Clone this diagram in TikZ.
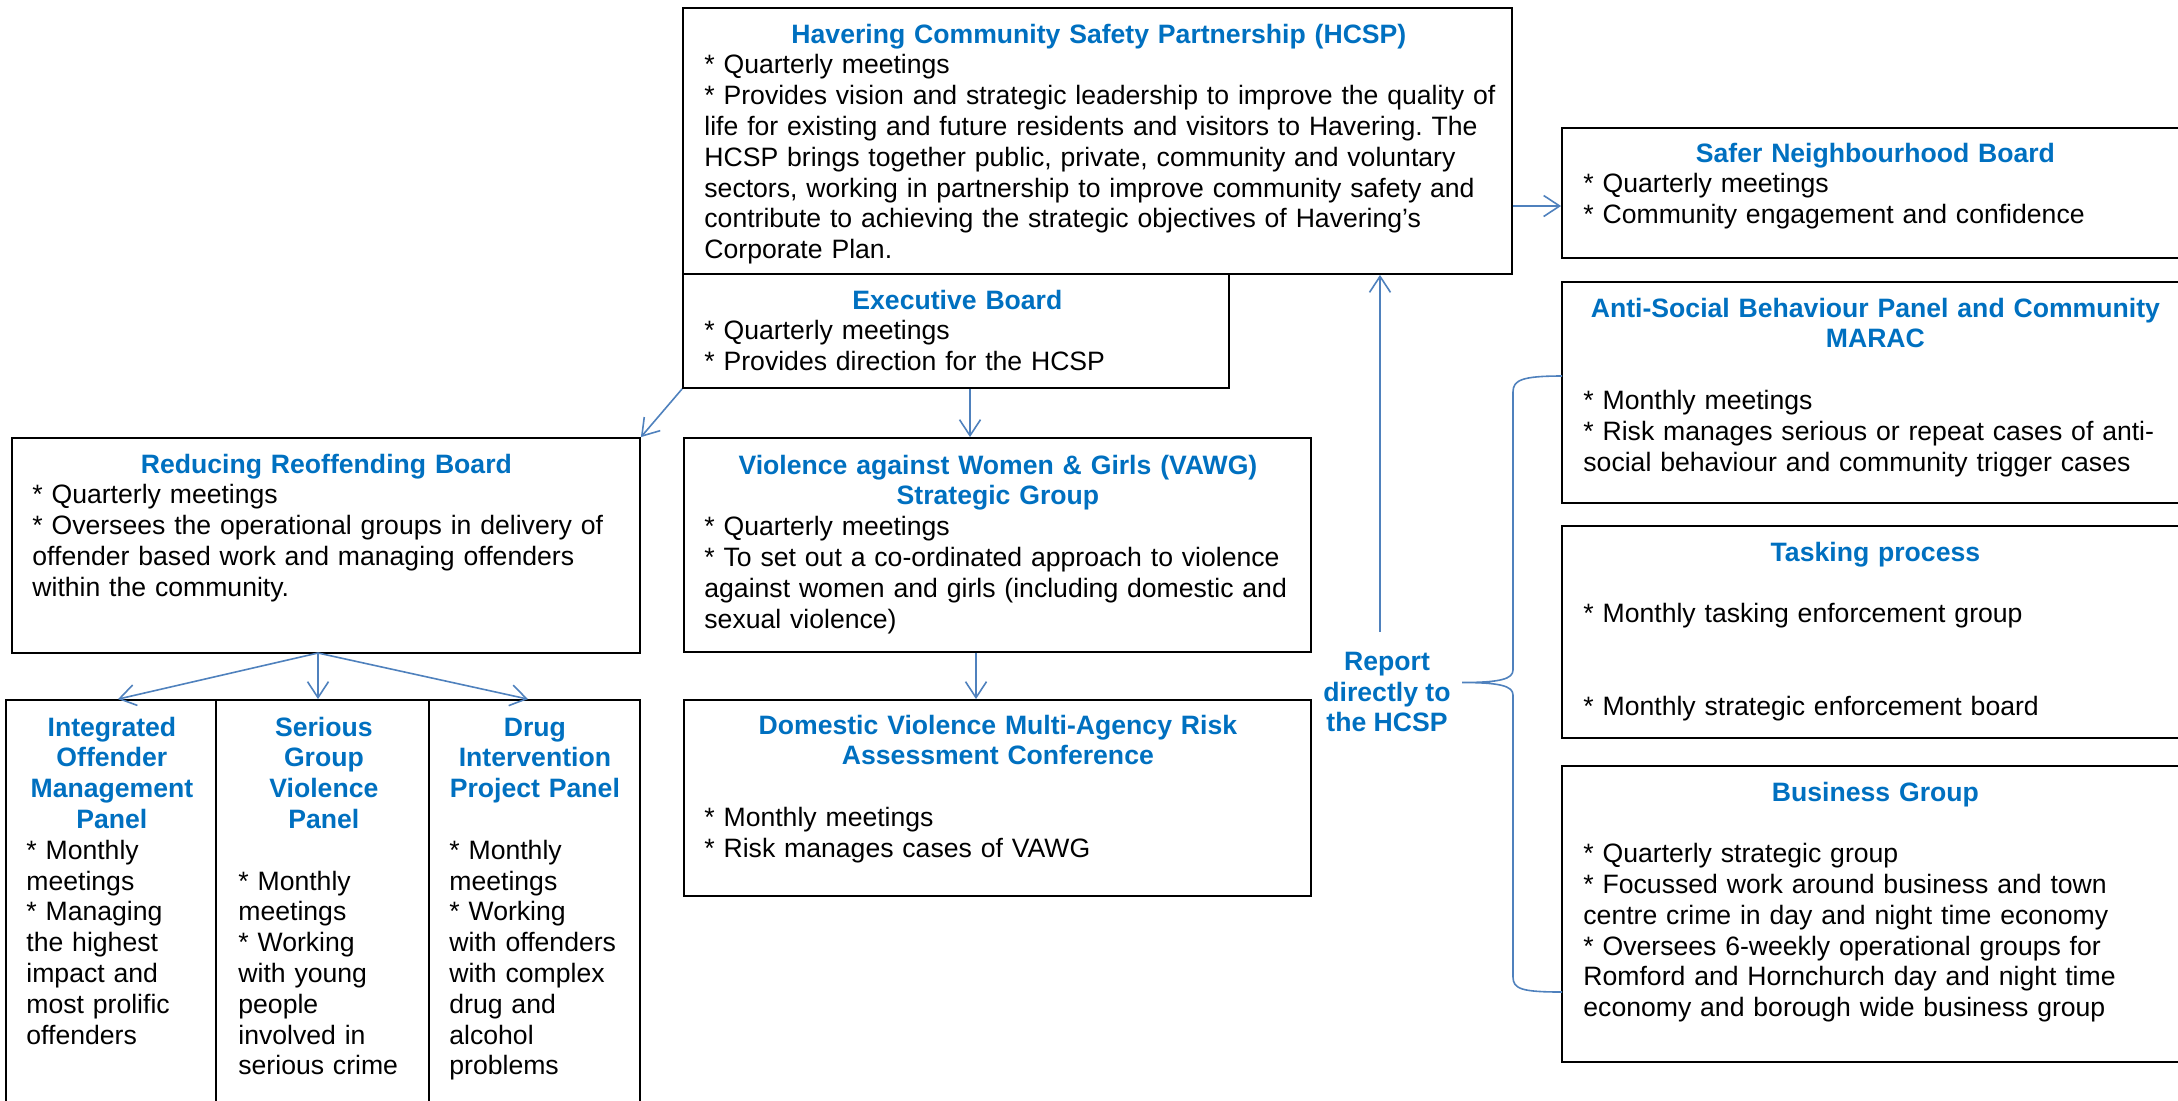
\documentclass[tikz,border=0pt]{standalone}
\usepackage{fontspec}
\setmainfont{Liberation Sans}
\usetikzlibrary{fit, arrows.meta}
\definecolor{titleblue}{HTML}{0070C0}
\definecolor{linkblue}{HTML}{4F81BD}
\frenchspacing
\newcommand\orgfont{\fontsize{13.3pt}{15.4pt}\selectfont}
\newcommand\boxtitle[1]{\makebox[\linewidth]{\bfseries\color{titleblue}#1}}
\newcommand\fullline[1]{\makebox[\linewidth][s]{#1}}

\tikzset{
  frame/.style={draw, line width=0.9pt, inner sep=0pt},
  txt/.style={anchor=base west, inner sep=0pt, align=left, font=\orgfont},
  link/.style={draw=linkblue, line width=0.8pt, -{Straight Barb[length=8pt,width=10.5pt]}},
  brace/.style={draw=linkblue, line width=0.8pt},
}

\begin{document}
\begin{tikzpicture}[x=0.5pt, y=-0.5pt]
\path[use as bounding box] (0,0) rectangle (2178,1100);
\clip (0,0) rectangle (2178,1100);

% frames
\node[frame, fit={(683,8) (1512,274)}] (hcsp) {};
\node[frame, fit={(683,274) (1229,388)}] (exec) {};
\node[frame, fit={(12,438) (640,653)}] (rrb) {};
\node[frame, fit={(684,438) (1311,652)}] (vawg) {};
\node[frame, fit={(684,700) (1311,896)}] (dv) {};
\node[frame, fit={(6,700) (216,1120)}] (iom) {};
\node[frame, fit={(216,700) (429,1120)}] (sgv) {};
\node[frame, fit={(429,700) (640,1120)}] (dip) {};
\node[frame, fit={(1562,128) (2187,258)}] (safer) {};
\node[frame, fit={(1562,282) (2187,503)}] (asb) {};
\node[frame, fit={(1562,526) (2187,738)}] (tasking) {};
\node[frame, fit={(1562,766) (2187,1062)}] (business) {};

% texts
\node[txt, text width=394.5pt] (hcsp-txt) at (704,43) {\boxtitle{Havering Community Safety Partnership (HCSP)}\\
{}* Quarterly meetings\\
\fullline{* Provides vision and strategic leadership to improve the quality of}\\
\fullline{life for existing and future residents and visitors to Havering. The}\\
\fullline{HCSP brings together public, private, community and voluntary}\\
\fullline{sectors, working in partnership to improve community safety and}\\
\fullline{contribute to achieving the strategic objectives of Havering’s}\\
Corporate Plan.};
\node[txt, text width=253pt] (exec-txt) at (704,309) {\boxtitle{Executive Board}\\
{}* Quarterly meetings\\
{}* Provides direction for the HCSP};
\node[txt, text width=294pt] (rrb-txt) at (32,473) {\boxtitle{Reducing Reoffending Board}\\
{}* Quarterly meetings\\
{}* Oversees the operational groups in delivery of\\
offender based work and managing offenders\\
within the community.};
\node[txt, text width=293.5pt] (vawg-txt) at (704,474) {\boxtitle{Violence against Women \& Girls (VAWG)}\\
\boxtitle{Strategic Group}\\
{}* Quarterly meetings\\
{}* To set out a co-ordinated approach to violence\\
against women and girls (including domestic and\\
sexual violence)};
\node[txt, text width=293.5pt] (dv-txt) at (704,734) {\boxtitle{Domestic Violence Multi-Agency Risk}\\
\boxtitle{Assessment Conference}\\[15.4pt]
{}* Monthly meetings\\
{}* Risk manages cases of VAWG};
\node[txt, text width=85.5pt] (iom-txt) at (26,736) {\boxtitle{Integrated}\\
\boxtitle{Offender}\\
\boxtitle{Management}\\
\boxtitle{Panel}\\
{}* Monthly\\
meetings\\
{}* Managing\\
the highest\\
impact and\\
most prolific\\
offenders};
\node[txt, text width=85.5pt] (sgv-txt) at (238,736) {\boxtitle{Serious}\\
\boxtitle{Group}\\
\boxtitle{Violence}\\
\boxtitle{Panel}\\[15.4pt]
{}* Monthly\\
meetings\\
{}* Working\\
with young\\
people\\
involved in\\
serious crime};
\node[txt, text width=85.5pt] (dip-txt) at (449,736) {\boxtitle{Drug}\\
\boxtitle{Intervention}\\
\boxtitle{Project Panel}\\[15.4pt]
{}* Monthly\\
meetings\\
{}* Working\\
with offenders\\
with complex\\
drug and\\
alcohol\\
problems};
\node[txt, text width=292pt] (safer-txt) at (1583,162) {\boxtitle{Safer Neighbourhood Board}\\
{}* Quarterly meetings\\
{}* Community engagement and confidence};
\node[txt, text width=292pt] (asb-txt) at (1583,317) {\boxtitle{Anti-Social Behaviour Panel and Community}\\
\boxtitle{MARAC}\\[15.4pt]
{}* Monthly meetings\\
{}* Risk manages serious or repeat cases of anti-\\
social behaviour and community trigger cases};
\node[txt, text width=292pt] (tasking-txt) at (1583,561) {\boxtitle{Tasking process}\\[15.4pt]
{}* Monthly tasking enforcement group\\[30.8pt]
{}* Monthly strategic enforcement board};
\node[txt, text width=292pt] (business-txt) at (1583,801) {\boxtitle{Business Group}\\[15.4pt]
{}* Quarterly strategic group\\
{}* Focussed work around business and town\\
centre crime in day and night time economy\\
{}* Oversees 6-weekly operational groups for\\
Romford and Hornchurch day and night time\\
economy and borough wide business group};
\node[font=\orgfont\bfseries, text=titleblue, align=center, inner sep=0pt] (report) at (1387,692) {Report\\directly to\\the HCSP};

% connectors
\coordinate (fork) at (318,653);
\coordinate (rise) at (1380,632);
\draw[link] (hcsp.east |- 0,206) -- (safer.west |- 0,206);
\draw[link] (exec.south west) -- (rrb.north east);
\draw[link] (exec.south -| 970,0) -- (vawg.north -| 970,0);
\draw[link] (vawg.south -| 976,0) -- (dv.north -| 976,0);
\draw[link] (fork) -- (iom.north -| 118,0);
\draw[link] (fork) -- (sgv.north -| 318,0);
\draw[link] (fork) -- (dip.north -| 528,0);
\draw[link] (rise) -- (rise |- hcsp.south);
\draw[brace] (1562,376) .. controls (1522,376) and (1513,380) .. (1513,392)
  -- (1513,670) .. controls (1513,679) and (1500,682.5) .. (1462,682.5)
  .. controls (1500,682.5) and (1513,686) .. (1513,695)
  -- (1513,977) .. controls (1513,989) and (1522,992) .. (1562,992);
\end{tikzpicture}
\end{document}
